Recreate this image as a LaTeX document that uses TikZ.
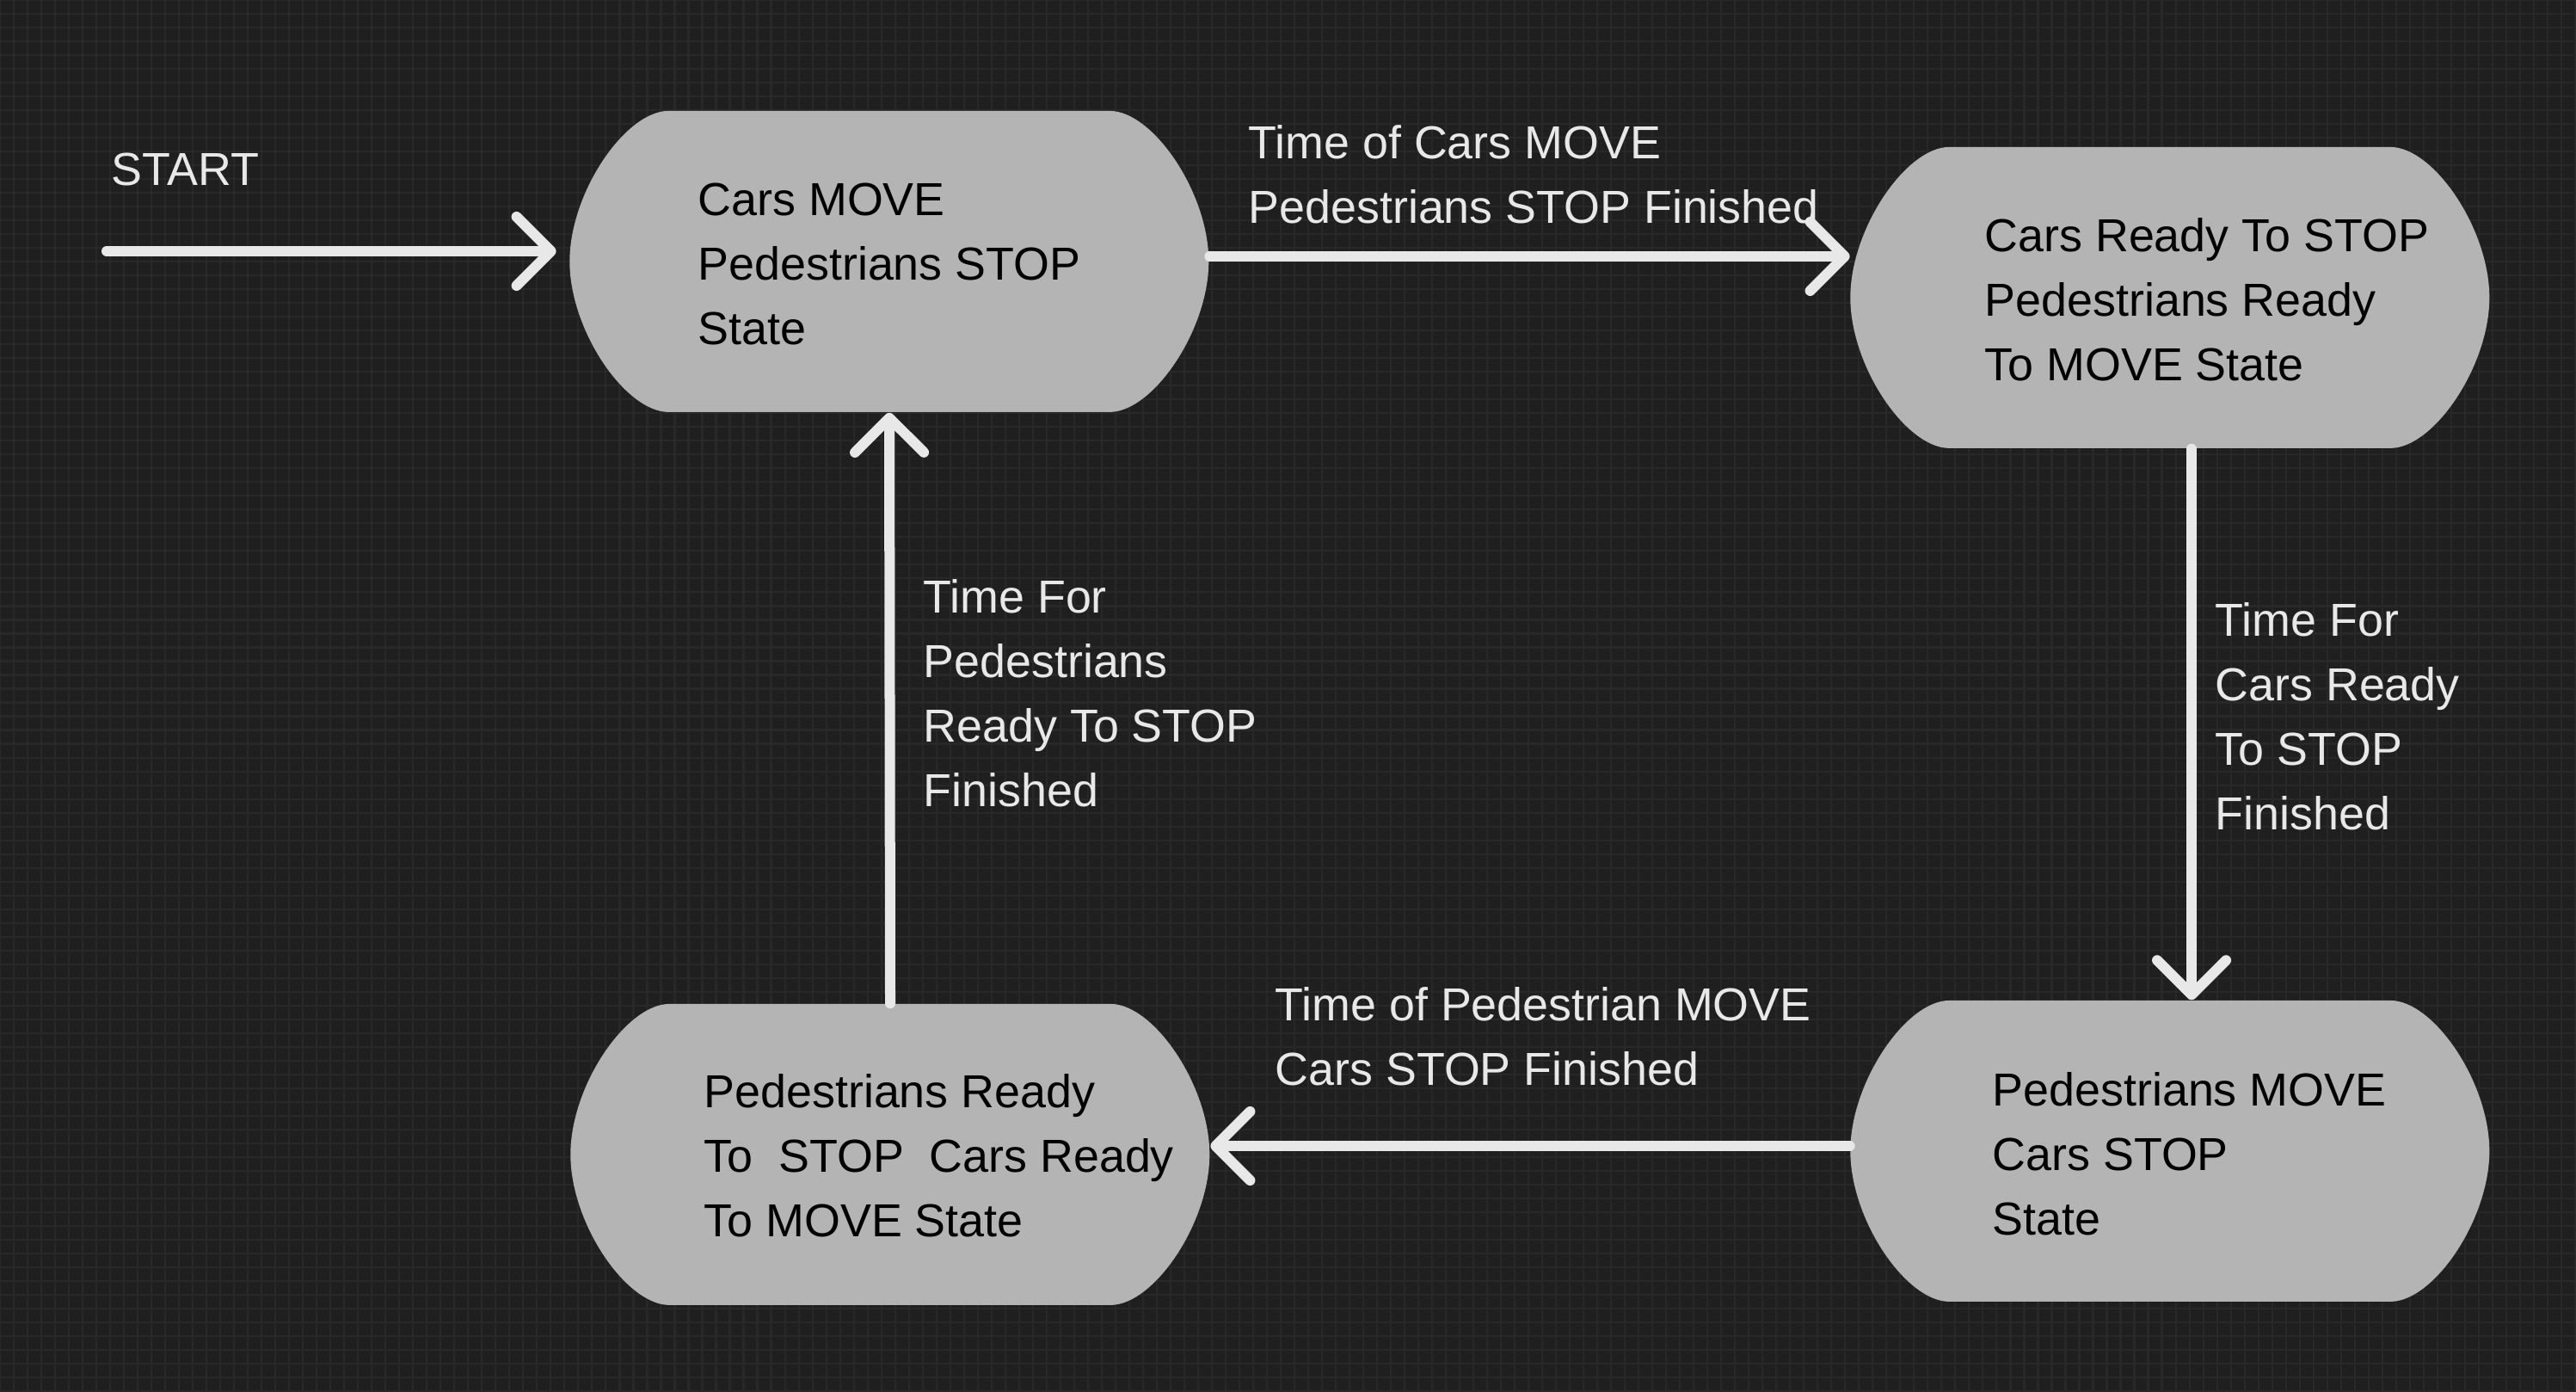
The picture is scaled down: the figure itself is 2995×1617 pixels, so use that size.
\documentclass[tikz,border=0pt]{standalone}
\usepackage{fontspec}
\setmainfont{Liberation Sans}
\usetikzlibrary{arrows.meta}
\definecolor{bgcol}{HTML}{1F1F1F}
\definecolor{gridcol}{HTML}{282828}
\definecolor{statefill}{HTML}{B4B4B4}
\definecolor{inkcol}{HTML}{E8E8E8}
\tikzset{
  statebox/.style={rectangle, inner sep=0pt, minimum width=7.43cm, minimum height=3.50cm,
    path picture={
      \fill[statefill] (path picture bounding box.north west) ++(115,0) -- ++(513,0)
        .. controls +(50,0) and +(0,-80) .. ++(115,175)
        .. controls +(0,80) and +(50,0) .. ++(-115,175)
        -- ++(-513,0)
        .. controls +(-50,0) and +(0,80) .. ++(-115,-175)
        .. controls +(0,-80) and +(-50,0) .. ++(115,-175) -- cycle;
    }},
  txt/.style={inner sep=0pt, align=left, anchor=base west,
    font=\fontsize{15.3pt}{21.3pt}\selectfont},
  statetxt/.style={txt, text=black},
  lbl/.style={txt, text=inkcol},
  arr/.style={draw=inkcol, line width=0.12cm, line cap=round,
    -{Straight Barb[length=0.40cm, width=0.80cm, round]}},
}
\begin{document}
\begin{tikzpicture}[x=0.01cm, y=-0.01cm]
\useasboundingbox (0,0) rectangle (2995,1617);
\fill[bgcol] (0,0) rectangle (2995,1617);
\draw[gridcol, line width=0.6pt, step=0.16cm] (0,0) grid (2995,1617);

% states
\node[statebox] (s1) at (1034,304) {};
\node[statebox] (s2) at (2523,346) {};
\node[statebox] (s3) at (2523,1338) {};
\node[statebox] (s4) at (1035,1342) {};

% state texts (anchored at the baseline of their last line)
\node[statetxt] (t1) at (811,400) {Cars MOVE\\Pedestrians STOP\\State};
\node[statetxt] (t2) at (2307,442) {Cars Ready To STOP\\Pedestrians Ready\\To MOVE State};
\node[statetxt] (t3) at (2316,1435) {Pedestrians MOVE\\Cars STOP\\State};
\node[statetxt] (t4) at (818,1437) {Pedestrians Ready\\To\ \ STOP\ \ Cars Ready\\To MOVE State};

% start
\node[lbl] (start) at (129,215) {START};
\coordinate (st) at (124,292);
\draw[arr, shorten >=0.15cm] (st) -- (st -| s1.west);

% connectors
\draw[arr] ([yshift=0.06cm]s1.east) -- ([yshift=0.06cm]s1.east -| s2.west);
\draw[arr] ([xshift=0.25cm]s2.south) -- ([xshift=0.25cm]s3.north);
\draw[arr] ([yshift=0.06cm]s3.west) -- ([yshift=0.06cm]s3.west -| s4.east);
\draw[arr] (s4.north) -- (s1.south);

% labels
\node[lbl] (l12) at (1451,259) {Time of Cars MOVE\\Pedestrians STOP Finished};
\node[lbl] (l23) at (2575,964) {Time For\\Cars Ready\\To STOP\\Finished};
\node[lbl] (l34) at (1482,1261) {Time of Pedestrian MOVE\\Cars STOP Finished};
\node[lbl] (l41) at (1073,937) {Time For\\Pedestrians\\Ready To STOP\\Finished};
\end{tikzpicture}
\end{document}
